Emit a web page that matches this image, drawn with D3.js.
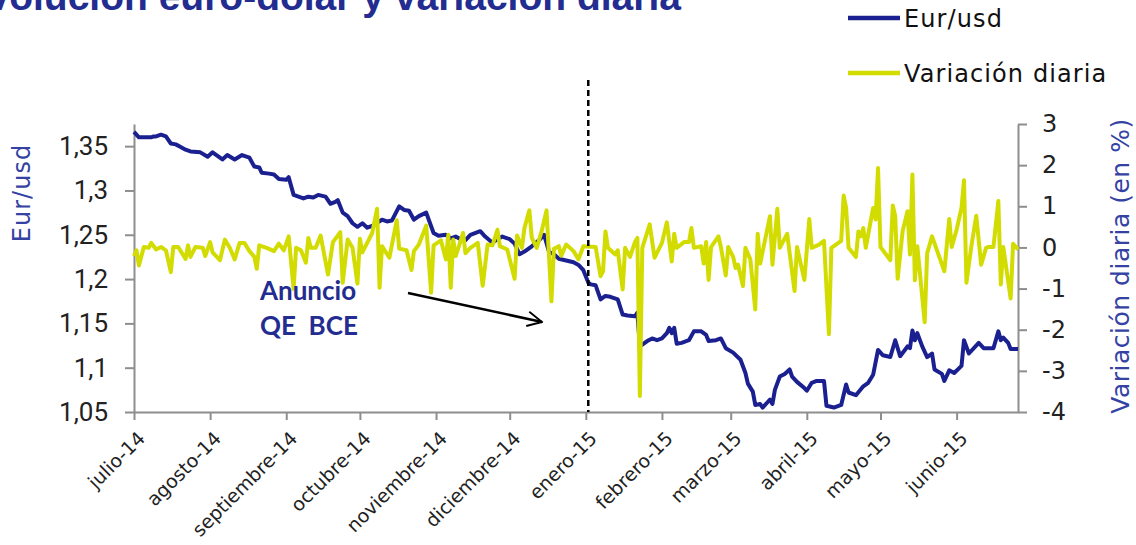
<!DOCTYPE html>
<html><head><meta charset="utf-8">
<script src="https://cdn.jsdelivr.net/npm/d3@7"></script>
<style>html,body{margin:0;padding:0;background:#fff;overflow:hidden}</style>
</head><body>
<svg id="c" width="1136" height="545"></svg>
<script>
// ---------- DATA ----------
const titleText = "Evolución euro-dólar y variación diaria";
const seriesNames = ["Eur/usd", "Variación diaria"];
const monthTicks = ["2014-07-01","2014-08-01","2014-09-01","2014-10-01","2014-11-01","2014-12-01","2015-01-01","2015-02-01","2015-03-01","2015-04-01","2015-05-01","2015-06-01"];
const monthLabels = ["julio-14","agosto-14","septiembre-14","octubre-14","noviembre-14","diciembre-14","enero-15","febrero-15","marzo-15","abril-15","mayo-15","junio-15"];
const leftTicks = [1.05,1.1,1.15,1.2,1.25,1.3,1.35];
const leftTickLabels = ["1,05","1,1","1,15","1,2","1,25","1,3","1,35"];
const rightTicks = [-4,-3,-2,-1,0,1,2,3];
const rightTickLabels = ["-4","-3","-2","-1","0","1","2","3"];
const announceDate = "2015-01-02";
const announceLabel = ["Anuncio", "QE  BCE"];

const eurDates = ["2014-07-01","2014-07-03","2014-07-04","2014-07-08","2014-07-09","2014-07-10","2014-07-12","2014-07-14","2014-07-16","2014-07-18","2014-07-20","2014-07-22","2014-07-24","2014-07-28","2014-07-31",
"2014-08-02","2014-08-04","2014-08-06","2014-08-08","2014-08-11","2014-08-14","2014-08-17","2014-08-19","2014-08-21","2014-08-22","2014-08-25","2014-08-27","2014-08-29",
"2014-09-01","2014-09-02","2014-09-04","2014-09-06","2014-09-08","2014-09-10","2014-09-12","2014-09-14","2014-09-17","2014-09-19","2014-09-21","2014-09-22","2014-09-24","2014-09-26","2014-09-28","2014-09-30",
"2014-10-02","2014-10-04","2014-10-06","2014-10-10","2014-10-12","2014-10-14","2014-10-17","2014-10-19","2014-10-21","2014-10-23","2014-10-25","2014-10-28","2014-10-31",
"2014-11-02","2014-11-05","2014-11-07","2014-11-09","2014-11-11","2014-11-13","2014-11-15","2014-11-19","2014-11-21","2014-11-24","2014-11-26","2014-11-28",
"2014-12-01","2014-12-03","2014-12-05","2014-12-07","2014-12-10","2014-12-13","2014-12-15","2014-12-17","2014-12-19","2014-12-21","2014-12-24","2014-12-27","2014-12-29","2014-12-31",
"2015-01-02","2015-01-03","2015-01-05","2015-01-07","2015-01-09","2015-01-11","2015-01-14","2015-01-16","2015-01-18","2015-01-21","2015-01-22","2015-01-23","2015-01-26","2015-01-28","2015-01-30",
"2015-02-01","2015-02-03","2015-02-04","2015-02-05","2015-02-06","2015-02-07","2015-02-09","2015-02-12","2015-02-14","2015-02-17","2015-02-19","2015-02-20","2015-02-23","2015-02-25","2015-02-27",
"2015-03-02","2015-03-05","2015-03-07","2015-03-08","2015-03-10","2015-03-11","2015-03-13","2015-03-14","2015-03-16","2015-03-17","2015-03-18","2015-03-19","2015-03-21","2015-03-23","2015-03-25","2015-03-26","2015-03-28","2015-03-31",
"2015-04-01","2015-04-03","2015-04-05","2015-04-08","2015-04-09","2015-04-12","2015-04-15","2015-04-17","2015-04-18","2015-04-21","2015-04-24","2015-04-26","2015-04-28","2015-04-30",
"2015-05-02","2015-05-05","2015-05-07","2015-05-09","2015-05-12","2015-05-13","2015-05-14","2015-05-15","2015-05-16","2015-05-18","2015-05-20","2015-05-22","2015-05-23","2015-05-26","2015-05-27","2015-05-29","2015-05-31",
"2015-06-03","2015-06-04","2015-06-06","2015-06-10","2015-06-12","2015-06-16","2015-06-18","2015-06-19","2015-06-20","2015-06-22","2015-06-23","2015-06-26"];
const eurValues = [1.366,1.360,1.360,1.360,1.361,1.361,1.363,1.361,1.353,1.352,1.349,1.346,1.344,1.343,1.338,
1.343,1.339,1.335,1.340,1.335,1.340,1.337,1.327,1.326,1.320,1.319,1.318,1.313,
1.312,1.315,1.295,1.293,1.291,1.293,1.292,1.295,1.293,1.285,1.287,1.289,1.275,1.271,1.263,1.259,
1.263,1.258,1.260,1.267,1.265,1.266,1.282,1.278,1.277,1.267,1.271,1.275,1.252,
1.249,1.250,1.246,1.248,1.245,1.244,1.250,1.254,1.248,1.241,1.245,1.248,
1.245,1.240,1.228,1.231,1.237,1.244,1.250,1.231,1.228,1.223,1.221,1.219,1.216,1.210,
1.196,1.194,1.193,1.177,1.181,1.180,1.177,1.160,1.159,1.158,1.162,1.124,1.130,1.133,1.131,
1.133,1.139,1.145,1.139,1.145,1.127,1.128,1.131,1.141,1.141,1.137,1.130,1.131,1.133,1.122,
1.117,1.109,1.094,1.082,1.073,1.058,1.059,1.055,1.061,1.064,1.059,1.075,1.090,1.093,1.098,1.090,1.084,1.077,
1.074,1.083,1.085,1.085,1.057,1.055,1.058,1.081,1.072,1.069,1.079,1.083,1.092,1.120,
1.114,1.112,1.131,1.113,1.124,1.122,1.142,1.131,1.139,1.124,1.112,1.116,1.098,1.093,1.085,1.097,1.094,
1.102,1.131,1.116,1.128,1.122,1.122,1.141,1.131,1.134,1.128,1.121,1.121];

const varDates = ["2014-07-01","2014-07-02","2014-07-03","2014-07-05","2014-07-07","2014-07-08","2014-07-10","2014-07-12","2014-07-14","2014-07-16","2014-07-17","2014-07-19","2014-07-22","2014-07-23","2014-07-24","2014-07-26","2014-07-29","2014-07-30",
"2014-08-01","2014-08-02","2014-08-05","2014-08-07","2014-08-09","2014-08-11","2014-08-13","2014-08-15","2014-08-17","2014-08-19","2014-08-20","2014-08-21","2014-08-24","2014-08-27","2014-08-29","2014-08-31",
"2014-09-02","2014-09-04","2014-09-05","2014-09-07","2014-09-09","2014-09-10","2014-09-11","2014-09-13","2014-09-15","2014-09-18","2014-09-20","2014-09-23","2014-09-24","2014-09-26","2014-09-28","2014-09-30",
"2014-10-01","2014-10-02","2014-10-06","2014-10-08","2014-10-09","2014-10-10","2014-10-13","2014-10-16","2014-10-17","2014-10-20","2014-10-22","2014-10-23","2014-10-25","2014-10-28","2014-10-30","2014-10-31",
"2014-11-03","2014-11-05","2014-11-06","2014-11-07","2014-11-08","2014-11-09","2014-11-10","2014-11-12","2014-11-13","2014-11-15","2014-11-18","2014-11-20","2014-11-22","2014-11-24","2014-11-26","2014-11-27","2014-11-30",
"2014-12-03","2014-12-04","2014-12-06","2014-12-07","2014-12-09","2014-12-10","2014-12-12","2014-12-14","2014-12-16","2014-12-18","2014-12-19","2014-12-21","2014-12-22","2014-12-24","2014-12-27","2014-12-29","2014-12-31",
"2015-01-05","2015-01-07","2015-01-08","2015-01-09","2015-01-10","2015-01-13","2015-01-14","2015-01-16","2015-01-17","2015-01-19","2015-01-21","2015-01-22","2015-01-23","2015-01-24","2015-01-27","2015-01-29",
"2015-02-01","2015-02-03","2015-02-05","2015-02-06","2015-02-07","2015-02-10","2015-02-12","2015-02-13","2015-02-14","2015-02-17","2015-02-18","2015-02-19","2015-02-20","2015-02-21","2015-02-24","2015-02-25","2015-02-27","2015-02-28",
"2015-03-02","2015-03-03","2015-03-04","2015-03-06","2015-03-07","2015-03-09","2015-03-11","2015-03-12","2015-03-13","2015-03-17","2015-03-18","2015-03-20","2015-03-21","2015-03-24","2015-03-27","2015-03-28","2015-03-31",
"2015-04-02","2015-04-03","2015-04-06","2015-04-08","2015-04-10","2015-04-11","2015-04-15","2015-04-16","2015-04-17","2015-04-18","2015-04-21","2015-04-22","2015-04-23","2015-04-24","2015-04-25","2015-04-28","2015-04-29","2015-04-30",
"2015-05-01","2015-05-05","2015-05-06","2015-05-07","2015-05-08","2015-05-10","2015-05-12","2015-05-13","2015-05-14","2015-05-15","2015-05-16","2015-05-19","2015-05-20","2015-05-22","2015-05-27","2015-05-29","2015-05-30",
"2015-06-01","2015-06-03","2015-06-04","2015-06-05","2015-06-07","2015-06-09","2015-06-11","2015-06-13","2015-06-14","2015-06-16","2015-06-18","2015-06-19","2015-06-20","2015-06-23","2015-06-24","2015-06-26"];
const varValues = [-0.21,-0.07,-0.44,0.01,-0.01,0.11,-0.05,0.01,-0.07,-0.60,0.01,0.01,-0.28,0.05,-0.23,0.01,-0.01,-0.21,
0.13,-0.12,-0.31,0.19,-0.01,-0.29,0.11,0.11,-0.09,-0.23,-0.52,0.05,-0.01,-0.09,0.09,-0.07,
0.27,-1.01,-0.01,-0.07,-0.37,0.23,-0.01,-0.01,0.29,-0.66,0.13,0.37,-0.86,0.19,-0.01,-0.88,
0.21,-0.12,0.35,0.94,-0.98,0.03,-0.25,0.66,-0.03,-0.07,-0.55,-0.09,0.07,0.53,-1.10,0.05,
0.17,-0.29,0.31,-0.98,0.19,-0.21,-0.03,0.35,-0.14,-0.01,0.11,-0.93,0.07,0.05,0.43,0.03,-0.05,
-0.76,0.29,-0.01,0.47,0.90,0.23,-0.01,0.39,0.90,-1.31,-0.03,0.03,-0.20,0.07,-0.09,-0.29,0.03,
0.01,-0.70,-0.58,0.39,-0.01,-0.17,-0.07,-1.02,-0.01,-0.23,0.13,0.23,-3.61,-0.01,0.56,-0.25,
0.11,0.61,-0.34,0.33,-0.01,0.13,0.13,0.47,-0.01,0.03,-0.39,0.13,-0.79,0.01,0.27,0.01,-0.68,0.01,
-0.23,-0.50,-0.42,-0.94,-0.01,-0.29,-1.51,0.33,-0.39,0.76,-0.42,0.94,-0.01,0.33,-1.06,0.01,-0.79,
0.69,-0.01,0.07,0.16,-2.11,-0.01,0.16,1.26,0.96,-0.01,-0.23,0.39,0.27,0.47,-0.01,0.96,0.68,1.93,
0.01,-0.31,1.02,0.76,-0.76,0.39,0.88,-0.17,1.77,-0.80,0.03,-1.82,-0.14,0.27,-0.58,0.69,0.01,
0.43,0.96,1.63,-0.86,0.03,0.77,-0.42,-0.01,0.01,0.01,1.13,-0.90,0.01,-1.24,0.09,-0.05];

// ---------- STYLE / LAYOUT ----------
const plot = {left: 134, right: 1018, top: 124, bottom: 412};
const colBlue = "#1b2090", colYellow = "#d3dc00", colAxis = "#8e8e8e";
const titleBlue = "#232c90", axisTitleBlue = "#3442a4";
const sideFont = "'DejaVu Sans', Verdana, sans-serif";

const parse = d3.timeParse("%Y-%m-%d");
const svg = d3.select("#c");

const x = d3.scaleTime().domain([parse("2014-07-01"), parse("2015-06-26")]).range([plot.left, plot.right]);
const yL = d3.scaleLinear().domain([1.05, 1.375]).range([plot.bottom, plot.top]);
const yR = d3.scaleLinear().domain([-4, 3]).range([plot.bottom, plot.top]);

// Title (cropped at top-left in the original)
svg.append("text").attr("x", 681).attr("y", 10).attr("text-anchor", "end")
  .style("font-family", "'Liberation Sans', Arial, sans-serif").style("font-weight", "bold")
  .style("font-size", "39px").attr("fill", titleBlue).text(titleText);

// Axes
function styleAxis(g) {
  g.selectAll("path.domain").attr("stroke", colAxis).attr("stroke-width", 2);
  g.selectAll(".tick line").attr("stroke", colAxis).attr("stroke-width", 2);
}
const gx = svg.append("g").attr("transform", `translate(0,${plot.bottom})`)
  .call(d3.axisBottom(x).tickValues(monthTicks.map(parse)).tickSize(8).tickSizeOuter(0).tickFormat(""));
styleAxis(gx);
gx.selectAll(".tick").append("text")
  .attr("transform", "translate(7,23) rotate(-45)")
  .attr("text-anchor", "end").attr("dy", "0.35em").attr("fill", "#222")
  .style("font-family", sideFont).style("font-size", "19px")
  .text((d, i) => monthLabels[i]);

const gl = svg.append("g").attr("transform", `translate(${plot.left},0)`)
  .call(d3.axisLeft(yL).tickValues(leftTicks).tickSize(9).tickSizeOuter(0).tickPadding(17)
    .tickFormat((d, i) => leftTickLabels[i]));
styleAxis(gl);
gl.selectAll(".tick text").attr("fill", "#222").style("font-family", "Roboto, sans-serif").style("font-size", "26px");

const gr = svg.append("g").attr("transform", `translate(${plot.right},0)`)
  .call(d3.axisRight(yR).tickValues(rightTicks).tickSize(9).tickSizeOuter(0).tickPadding(15)
    .tickFormat((d, i) => rightTickLabels[i]));
styleAxis(gr);
gr.selectAll(".tick text").attr("fill", "#222").style("font-family", sideFont).style("font-size", "24px");

// Axis titles
svg.append("text").attr("transform", "translate(30,193) rotate(-90)").attr("text-anchor", "middle")
  .attr("fill", axisTitleBlue).style("font-family", sideFont).style("font-size", "24px")
  .style("letter-spacing", "1px").text("Eur/usd");
svg.append("text").attr("transform", "translate(1129,266) rotate(-90)").attr("text-anchor", "middle")
  .attr("fill", axisTitleBlue).style("font-family", sideFont).style("font-size", "25px")
  .style("letter-spacing", "0.5px").text("Variación diaria (en %)");

// Lines
const eurData = eurDates.map((d, i) => ({date: parse(d), v: eurValues[i]}));
const varData = varDates.map((d, i) => ({date: parse(d), v: varValues[i]}));
svg.append("path").datum(eurData)
  .attr("d", d3.line().x(d => x(d.date)).y(d => yL(d.v)))
  .attr("fill", "none").attr("stroke", colBlue).attr("stroke-width", 4).attr("stroke-linejoin", "round");
svg.append("path").datum(varData)
  .attr("d", d3.line().x(d => x(d.date)).y(d => yR(d.v)))
  .attr("fill", "none").attr("stroke", colYellow).attr("stroke-width", 4).attr("stroke-linejoin", "round");

// Announcement dashed line
const xa = x(parse(announceDate));
svg.append("line").attr("x1", xa).attr("x2", xa).attr("y1", 80).attr("y2", plot.bottom)
  .attr("stroke", "#000").attr("stroke-width", 2.5).attr("stroke-dasharray", "6,4");

// Annotation text + arrow
announceLabel.forEach((t, i) => {
  svg.append("text").attr("x", 260).attr("y", 300 + i * 35)
    .attr("fill", titleBlue).style("font-family", "Lato, 'Open Sans', sans-serif").style("font-weight", "bold")
    .style("font-size", "26px").style("white-space", "pre").text(t);
});
svg.append("defs").append("marker").attr("id", "arr").attr("viewBox", "0 0 12 12")
  .attr("refX", 11).attr("refY", 6).attr("markerWidth", 7).attr("markerHeight", 7)
  .attr("markerUnits", "strokeWidth").attr("orient", "auto")
  .append("path").attr("d", "M1,1 L11,6 L1,11").attr("fill", "none").attr("stroke", "#000").attr("stroke-width", 1.3);
svg.append("line").attr("x1", 408).attr("y1", 293).attr("x2", 542).attr("y2", 322)
  .attr("stroke", "#000").attr("stroke-width", 2.5).attr("marker-end", "url(#arr)");

// Legend
const leg = svg.append("g");
[[colBlue, 18], [colYellow, 73]].forEach(([c, yy], i) => {
  leg.append("line").attr("x1", 848).attr("x2", 900).attr("y1", yy).attr("y2", yy)
    .attr("stroke", c).attr("stroke-width", 4.5);
  leg.append("text").attr("x", 904).attr("y", yy).attr("dy", "0.36em").attr("fill", "#111")
    .style("font-family", sideFont).style("font-size", "24px").style("letter-spacing", "1.1px")
    .text(seriesNames[i]);
});
</script>
</body></html>
